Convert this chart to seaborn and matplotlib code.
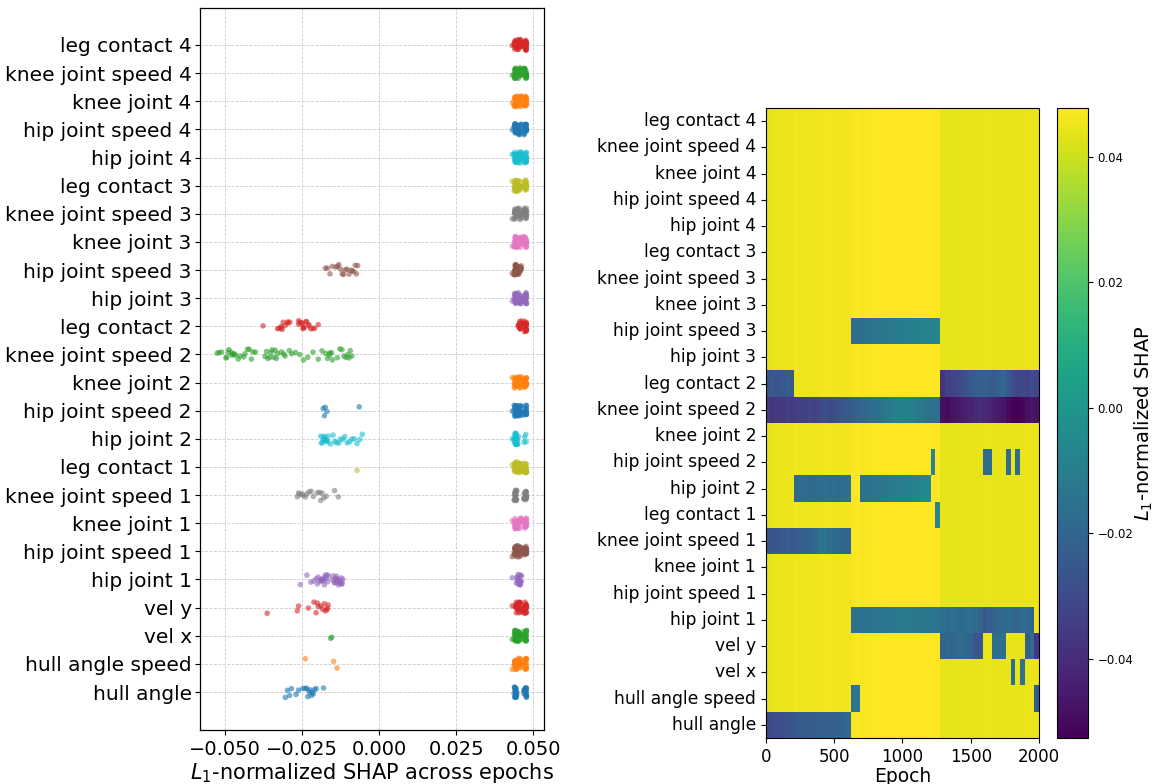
import numpy as np
import pandas as pd
import matplotlib
matplotlib.use("Agg")
import matplotlib.pyplot as plt
import seaborn as sns

# Observation features, first entry is the bottom row of both panels
FEATURES = [
    "hull angle", "hull angle speed", "vel x", "vel y",
    "hip joint 1", "hip joint speed 1", "knee joint 1", "knee joint speed 1", "leg contact 1",
    "hip joint 2", "hip joint speed 2", "knee joint 2", "knee joint speed 2", "leg contact 2",
    "hip joint 3", "hip joint speed 3", "knee joint 3", "knee joint speed 3", "leg contact 3",
    "hip joint 4", "hip joint speed 4", "knee joint 4", "knee joint speed 4", "leg contact 4",
]

N_CHECKPOINTS = 58
EPOCH_MAX = 2000
EPOCH_TICKS = [0, 500, 1000, 1500, 2000]

# Positive attribution level shared by the features at each checkpoint
BASE_LEVEL = [
    0.0432, 0.0445, 0.0450, 0.0448, 0.0452, 0.0449,
    0.0455, 0.0452, 0.0457, 0.0454, 0.0451, 0.0456,
    0.0460, 0.0462, 0.0458, 0.0461, 0.0459, 0.0457,
    0.0470, 0.0472, 0.0469, 0.0473, 0.0471, 0.0474, 0.0472,
    0.0476, 0.0478, 0.0477, 0.0478, 0.0476, 0.0477, 0.0478, 0.0475, 0.0477, 0.0478, 0.0476, 0.0477,
    0.0440, 0.0438, 0.0441, 0.0443, 0.0439, 0.0442, 0.0444, 0.0441, 0.0440, 0.0443, 0.0445,
    0.0442, 0.0444, 0.0441, 0.0443, 0.0446, 0.0442, 0.0444, 0.0445, 0.0443, 0.0447,
]

# Negative stretches: feature -> list of (first checkpoint, values)
NEG_HULL_ANGLE = [(0, [-0.0305, -0.0298, -0.0291, -0.0285, -0.0270, -0.0262, -0.0248, -0.0240, -0.0236,
                       -0.0232, -0.0228, -0.0225, -0.0221, -0.0218, -0.0214, -0.0210, -0.0205, -0.0181])]
NEG_HULL_ANGLE_SPEED = [(18, [-0.0148, -0.0137]), (57, [-0.0240])]
NEG_VEL_X = [(52, [-0.0158]), (54, [-0.0154])]
NEG_VEL_Y = [(37, [-0.0205, -0.0198, -0.0212, -0.0185, -0.0176, -0.0190, -0.0201, -0.0262, -0.0266]),
             (48, [-0.0170, -0.0166, -0.0168]),
             (55, [-0.0230, -0.0178, -0.0364])]
NEG_HIP_JOINT_1 = [(18, [-0.0150, -0.0146, -0.0152, -0.0141, -0.0138, -0.0144, -0.0136, -0.0131, -0.0127,
                         -0.0124, -0.0120, -0.0118, -0.0122, -0.0126, -0.0129, -0.0133, -0.0135, -0.0139,
                         -0.0142,
                         -0.0172, -0.0178, -0.0165, -0.0184, -0.0190, -0.0176, -0.0168, -0.0181, -0.0205,
                         -0.0256, -0.0235, -0.0212, -0.0198, -0.0186, -0.0178, -0.0192, -0.0201, -0.0170,
                         -0.0188, -0.0222])]
NEG_KNEE_JOINT_SPEED_1 = [(0, [-0.0266, -0.0259, -0.0262, -0.0248, -0.0240, -0.0252, -0.0236, -0.0228,
                               -0.0221, -0.0214, -0.0190, -0.0145, -0.0133, -0.0172, -0.0180, -0.0186,
                               -0.0194, -0.0201])]
NEG_LEG_CONTACT_1 = [(36, [-0.0072])]
NEG_HIP_JOINT_2 = [(6, [-0.0188, -0.0182, -0.0176, -0.0185, -0.0179, -0.0172, -0.0168, -0.0181, -0.0175,
                        -0.0190, -0.0170, -0.0166]),
                   (20, [-0.0158, -0.0150, -0.0144, -0.0139, -0.0131, -0.0126, -0.0118, -0.0112, -0.0104,
                         -0.0096, -0.0089, -0.0081, -0.0072, -0.0063, -0.0055])]
NEG_HIP_JOINT_SPEED_2 = [(35, [-0.0065]), (46, [-0.0182, -0.0175]), (51, [-0.0178]), (53, [-0.0170])]
NEG_KNEE_JOINT_SPEED_2 = [(0, [-0.0362, -0.0371, -0.0355, -0.0366, -0.0348, -0.0352,
                               -0.0338, -0.0330, -0.0342, -0.0318, -0.0334, -0.0310,
                               -0.0292, -0.0306, -0.0284, -0.0272, -0.0258, -0.0246,
                               -0.0232, -0.0215, -0.0198, -0.0186, -0.0174, -0.0160, -0.0152,
                               -0.0128, -0.0115, -0.0102, -0.0094, -0.0089, -0.0098, -0.0108, -0.0121, -0.0136,
                               -0.0155, -0.0168, -0.0162,
                               -0.0488, -0.0495, -0.0478, -0.0470, -0.0452, -0.0436, -0.0428, -0.0415,
                               -0.0402, -0.0410, -0.0422, -0.0440, -0.0458, -0.0475, -0.0498, -0.0520,
                               -0.0526, -0.0512, -0.0490, -0.0468, -0.0480])]
NEG_LEG_CONTACT_2 = [(0, [-0.0258, -0.0250, -0.0262, -0.0245, -0.0238, -0.0252]),
                     (37, [-0.0377, -0.0330, -0.0325, -0.0318, -0.0296, -0.0262, -0.0248, -0.0230,
                           -0.0222, -0.0215, -0.0228, -0.0236, -0.0210, -0.0198, -0.0245, -0.0290,
                           -0.0312, -0.0305, -0.0320, -0.0298, -0.0315])]
NEG_HIP_JOINT_SPEED_3 = [(18, [-0.0175, -0.0168, -0.0160, -0.0152, -0.0140, -0.0136, -0.0131, -0.0125,
                               -0.0120, -0.0116, -0.0110, -0.0105, -0.0098, -0.0092, -0.0088, -0.0083,
                               -0.0078, -0.0074, -0.0070])]

NEGATIVE_STRETCHES = {
    "hull angle": NEG_HULL_ANGLE,
    "hull angle speed": NEG_HULL_ANGLE_SPEED,
    "vel x": NEG_VEL_X,
    "vel y": NEG_VEL_Y,
    "hip joint 1": NEG_HIP_JOINT_1,
    "knee joint speed 1": NEG_KNEE_JOINT_SPEED_1,
    "leg contact 1": NEG_LEG_CONTACT_1,
    "hip joint 2": NEG_HIP_JOINT_2,
    "hip joint speed 2": NEG_HIP_JOINT_SPEED_2,
    "knee joint speed 2": NEG_KNEE_JOINT_SPEED_2,
    "leg contact 2": NEG_LEG_CONTACT_2,
    "hip joint speed 3": NEG_HIP_JOINT_SPEED_3,
}

# ---- assemble the feature x checkpoint matrix ----
shap = np.tile(np.array(BASE_LEVEL), (len(FEATURES), 1))
for name, stretches in NEGATIVE_STRETCHES.items():
    row = FEATURES.index(name)
    for start, vals in stretches:
        shap[row, start:start + len(vals)] = vals

top_down = FEATURES[::-1]
heat_df = pd.DataFrame(shap[::-1], index=top_down)

long_df = pd.DataFrame({
    "feature": np.repeat(FEATURES, N_CHECKPOINTS),
    "value": shap.ravel(),
})
tab10 = sns.color_palette("tab10", 10)
palette = {f: tab10[i % 10] for i, f in enumerate(FEATURES)}

# ---- figure ----
plt.rcParams["font.family"] = ["DejaVu Sans"]
fig = plt.figure(figsize=(11.56, 7.84), dpi=100)

# left: distribution of each feature's attribution over checkpoints
ax1 = fig.add_axes([0.173, 0.0689, 0.2976, 0.9209])
np.random.seed(3)
sns.stripplot(data=long_df, x="value", y="feature", hue="feature", order=top_down,
              palette=palette, jitter=0.2, size=4, alpha=0.6, legend=False, ax=ax1)
ax1.set_xlim(-0.0582, 0.0535)
ax1.set_ylim(len(FEATURES) - 1 + 1.35, -1.315)
ax1.set_xticks([-0.05, -0.025, 0.0, 0.025, 0.05])
ax1.set_xticklabels(["−0.050", "−0.025", "0.000", "0.025", "0.050"])
ax1.tick_params(axis="x", labelsize=14)
ax1.tick_params(axis="y", labelsize=14.5, pad=2.5)
ax1.grid(True, linestyle="--", linewidth=0.6, color="#cccccc")
ax1.set_axisbelow(True)
ax1.set_ylabel("")
ax1.set_xlabel("$L_1$-normalized SHAP across epochs", fontsize=15, labelpad=2)
for s in ax1.spines.values():
    s.set_visible(True)
    s.set_linewidth(0.9)

# right: attribution per feature over training epochs
ax2 = fig.add_axes([0.6626, 0.0587, 0.2362, 0.8036])
cax = fig.add_axes([0.9144, 0.0587, 0.0268, 0.8036])
sns.heatmap(heat_df, ax=ax2, cbar_ax=cax, cmap="viridis",
            xticklabels=False, yticklabels=top_down)
ax2.set_xticks([e * N_CHECKPOINTS / EPOCH_MAX for e in EPOCH_TICKS])
ax2.set_xticklabels([str(e) for e in EPOCH_TICKS], rotation=0)
ax2.tick_params(axis="x", labelsize=12, length=3.5)
ax2.tick_params(axis="y", labelsize=12.3, length=3.5, rotation=0)
ax2.set_xlabel("Epoch", fontsize=13.5, labelpad=1)
ax2.set_ylabel("")
for s in ax2.spines.values():
    s.set_visible(True)
    s.set_linewidth(0.8)

cax.tick_params(labelsize=8.5)
cax.set_ylabel("$L_1$-normalized SHAP", fontsize=14)
cax.yaxis.set_label_coords(2.45, 0.5)
cbar = ax2.collections[0].colorbar
cbar.outline.set_visible(True)
cbar.outline.set_linewidth(0.8)

fig.savefig("out.png", dpi=100)
